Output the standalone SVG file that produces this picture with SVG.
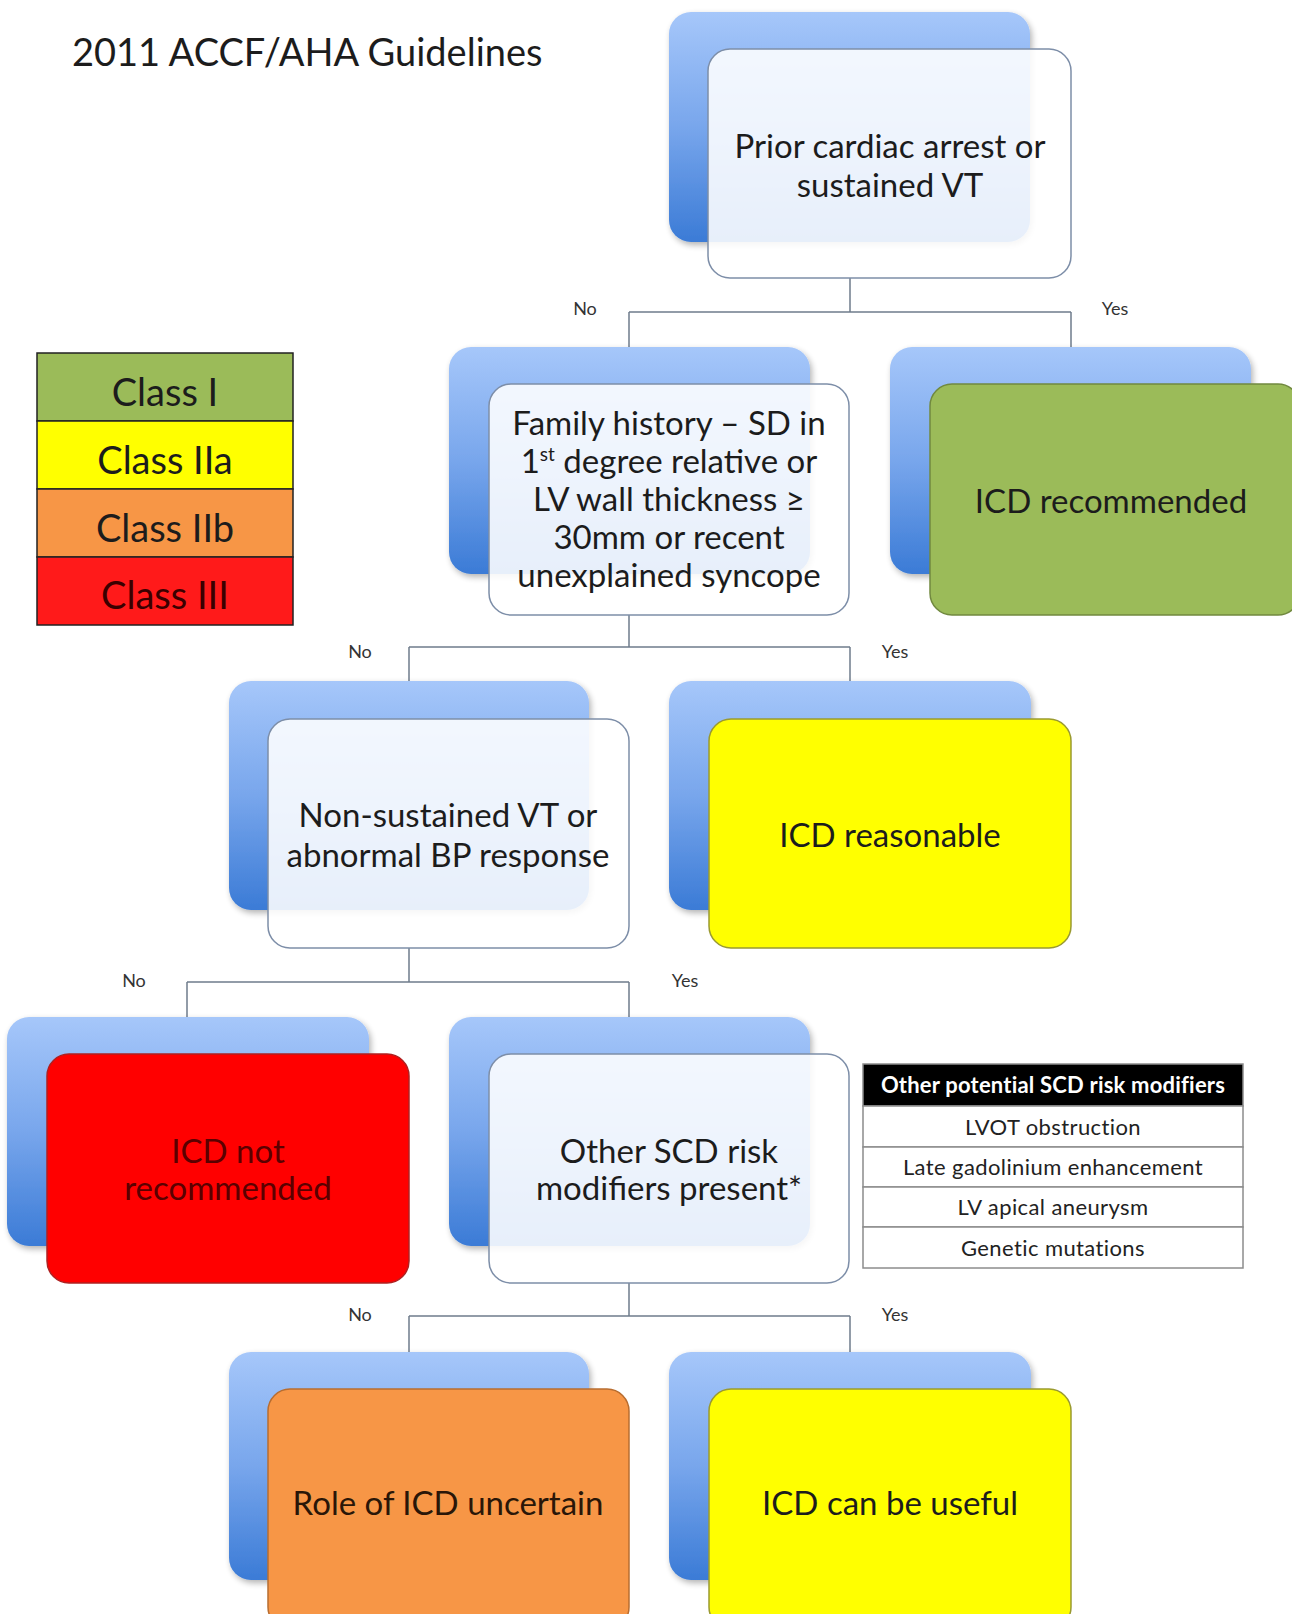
<svg xmlns="http://www.w3.org/2000/svg" width="1292" height="1614" viewBox="0 0 1292 1614">
<defs>
<linearGradient id="blueGrad" x1="0" y1="0" x2="0" y2="1">
<stop offset="0" stop-color="#a6c7fa"/>
<stop offset="0.5" stop-color="#78a6ec"/>
<stop offset="1" stop-color="#3b7bd6"/>
</linearGradient>
<filter id="sh" x="-10%" y="-10%" width="130%" height="130%">
<feGaussianBlur in="SourceAlpha" stdDeviation="3"/>
<feOffset dx="2" dy="3" result="o"/>
<feComponentTransfer><feFuncA type="linear" slope="0.3"/></feComponentTransfer>
<feMerge><feMergeNode/><feMergeNode in="SourceGraphic"/></feMerge>
</filter>
</defs>
<style>
.back{fill:url(#blueGrad);filter:url(#sh)}
.q{fill:#ffffff;fill-opacity:0.88;stroke:#7d8ea8;stroke-width:1.5}
.green{fill:#9bbb59;stroke:#71893f;stroke-width:1.5}
.yellow{fill:#ffff00;stroke:#9a9a30;stroke-width:1.5}
.red{fill:#ff0000;stroke:#b02020;stroke-width:1.5}
.orange{fill:#f79646;stroke:#b86d30;stroke-width:1.5}
.t{font-family:Lato,"Liberation Sans",sans-serif;font-size:33px;fill:#1c1c1c;text-anchor:middle}
.lbl{font-family:Lato,"Liberation Sans",sans-serif;font-size:18px;fill:#333;text-anchor:middle}
.leg{font-family:Lato,"Liberation Sans",sans-serif;font-size:38px;fill:#1c1c1c;text-anchor:middle}
.conn{fill:none;stroke:#6f7c8c;stroke-width:1.5}
.tb{font-family:Lato,"Liberation Sans",sans-serif;font-size:22px;fill:#222;text-anchor:middle;letter-spacing:0.4px}
.cell{fill:#fff;stroke:#8c8c8c;stroke-width:1.5}
</style>
<rect width="1292" height="1614" fill="#ffffff"/>

<text x="72" y="66" font-family="Lato,'Liberation Sans',sans-serif" font-size="38" fill="#1c1c1c">2011 ACCF/AHA Guidelines</text>

<g id="legend">
<rect x="37" y="353" width="256" height="68" fill="#9bbb59" stroke="#222" stroke-width="1.5"/>
<rect x="37" y="421" width="256" height="68" fill="#ffff00" stroke="#222" stroke-width="1.5"/>
<rect x="37" y="489" width="256" height="68" fill="#f79646" stroke="#222" stroke-width="1.5"/>
<rect x="37" y="557" width="256" height="68" fill="#ff1a1a" stroke="#222" stroke-width="1.5"/>
<text class="leg" x="165" y="406">Class I</text>
<text class="leg" x="165" y="474">Class IIa</text>
<text class="leg" x="165" y="542">Class IIb</text>
<text class="leg" x="165" y="609" style="fill:#3a0000">Class III</text>
</g>

<g id="connectors">
<path class="conn" d="M850 278V312M629 312H1071M629 312V347M1071 312V347"/>
<path class="conn" d="M629 615V647M409 647H850M409 647V681M850 647V681"/>
<path class="conn" d="M409 948V982M187 982H629M187 982V1017M629 982V1017"/>
<path class="conn" d="M629 1283V1316M409 1316H850M409 1316V1352M850 1316V1352"/>
<text class="lbl" x="585" y="315">No</text>
<text class="lbl" x="1115" y="315">Yes</text>
<text class="lbl" x="360" y="658">No</text>
<text class="lbl" x="895" y="658">Yes</text>
<text class="lbl" x="134" y="987">No</text>
<text class="lbl" x="685" y="987">Yes</text>
<text class="lbl" x="360" y="1321">No</text>
<text class="lbl" x="895" y="1321">Yes</text>
</g>

<g id="node-prior">
<rect class="back" x="669" y="12" width="361" height="230" rx="22"/>
<rect class="q" x="708" y="49" width="363" height="229" rx="22"/>
<text class="t" x="890" y="158">Prior cardiac arrest or</text>
<text class="t" x="890" y="197">sustained VT</text>
</g>

<g id="node-family">
<rect class="back" x="449" y="347" width="361" height="227" rx="22"/>
<rect class="q" x="489" y="384" width="360" height="231" rx="22"/>
<text class="t" x="669" y="435">Family history – SD in</text>
<text class="t" x="669" y="473">1<tspan font-size="19" dy="-12">st</tspan><tspan dy="12"> degree relative or</tspan></text>
<text class="t" x="669" y="511">LV wall thickness ≥</text>
<text class="t" x="669" y="549">30mm or recent</text>
<text class="t" x="669" y="587">unexplained syncope</text>
</g>

<g id="node-icd-recommended">
<rect class="back" x="890" y="347" width="361" height="227" rx="22"/>
<rect class="green" x="930" y="384" width="370" height="231" rx="22"/>
<text class="t" x="1111" y="513">ICD recommended</text>
</g>

<g id="node-nsvt">
<rect class="back" x="229" y="681" width="360" height="229" rx="22"/>
<rect class="q" x="268" y="719" width="361" height="229" rx="22"/>
<text class="t" x="448" y="827">Non-sustained VT or</text>
<text class="t" x="448" y="867">abnormal BP response</text>
</g>

<g id="node-icd-reasonable">
<rect class="back" x="669" y="681" width="362" height="229" rx="22"/>
<rect class="yellow" x="709" y="719" width="362" height="229" rx="22"/>
<text class="t" x="890" y="847">ICD reasonable</text>
</g>

<g id="node-icd-not">
<rect class="back" x="7" y="1017" width="362" height="229" rx="22"/>
<rect class="red" x="47" y="1054" width="362" height="229" rx="22"/>
<text class="t" x="228" y="1163" style="fill:#5a0000">ICD not</text>
<text class="t" x="228" y="1200" style="fill:#5a0000">recommended</text>
</g>

<g id="node-other">
<rect class="back" x="449" y="1017" width="361" height="229" rx="22"/>
<rect class="q" x="489" y="1054" width="360" height="229" rx="22"/>
<text class="t" x="669" y="1163">Other SCD risk</text>
<text class="t" x="669" y="1200">modifiers present*</text>
</g>

<g id="table-modifiers">
<rect x="863" y="1064" width="380" height="42" fill="#000" stroke="#8c8c8c" stroke-width="1.5"/>
<rect class="cell" x="863" y="1106" width="380" height="41"/>
<rect class="cell" x="863" y="1147" width="380" height="40"/>
<rect class="cell" x="863" y="1187" width="380" height="40"/>
<rect class="cell" x="863" y="1227" width="380" height="41"/>
<text class="tb" x="1053" y="1093" style="fill:#fff;font-weight:bold;letter-spacing:0.2px">Other potential SCD risk modifiers</text>
<text class="tb" x="1053" y="1135">LVOT obstruction</text>
<text class="tb" x="1053" y="1175">Late gadolinium enhancement</text>
<text class="tb" x="1053" y="1215">LV apical aneurysm</text>
<text class="tb" x="1053" y="1256">Genetic mutations</text>
</g>

<g id="node-uncertain">
<rect class="back" x="229" y="1352" width="360" height="228" rx="22"/>
<rect class="orange" x="268" y="1389" width="361" height="240" rx="22"/>
<text class="t" x="448" y="1515" style="fill:#2a1608">Role of ICD uncertain</text>
</g>

<g id="node-useful">
<rect class="back" x="669" y="1352" width="362" height="228" rx="22"/>
<rect class="yellow" x="709" y="1389" width="362" height="240" rx="22"/>
<text class="t" x="890" y="1515">ICD can be useful</text>
</g>
</svg>
